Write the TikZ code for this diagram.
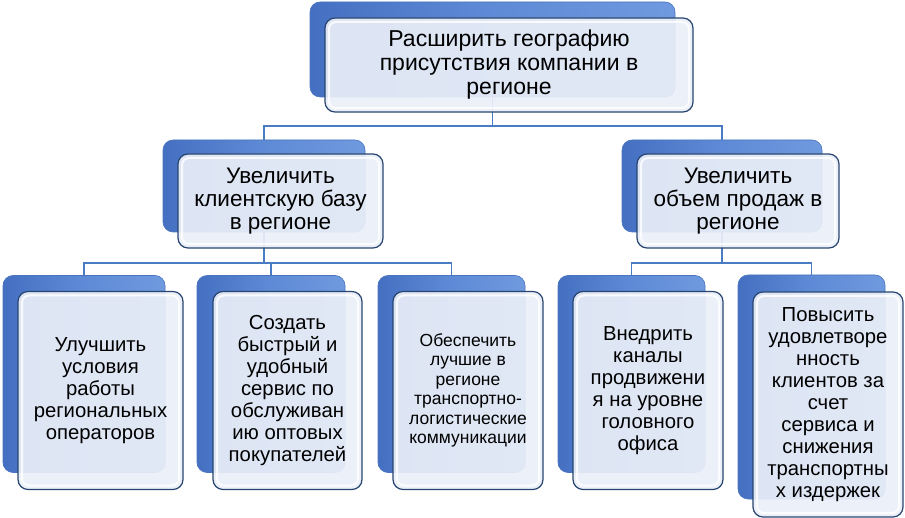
\documentclass[tikz,border=0pt]{standalone}
\usepackage{fontspec}
\setmainfont{Liberation Sans}
\usetikzlibrary{backgrounds}
\definecolor{bluedark}{HTML}{4570C2}
\definecolor{bluemid}{HTML}{5E8AD6}
\definecolor{bluelight}{HTML}{709ADF}
\definecolor{blueedge}{HTML}{4A74BE}
\definecolor{frontfill}{HTML}{EAEFF8}
\definecolor{frontedge}{HTML}{27456F}
\definecolor{linkblue}{HTML}{4A7CC4}
\tikzset{
	backbox/.style={rounded corners=10pt, left color=bluedark, right color=bluelight, middle color=bluemid, draw=blueedge, line width=0.6pt},
	frontbox/.style={rounded corners=10pt, fill=frontfill, fill opacity=0.92, text opacity=1, draw=frontedge, line width=1.2pt, align=center, inner sep=2pt, font=\fontsize{20.3}{22}\selectfont,
		path picture={\draw[white, line width=2pt, opacity=0.8, rounded corners=7pt] ([shift={(4pt,-4pt)}]path picture bounding box.north west) rectangle ([shift={(-4pt,4pt)}]path picture bounding box.south east);}},
	link/.style={draw=linkblue, line width=1.6pt}
}
\begin{document}
\begin{tikzpicture}[x=1pt,y=-1pt]
	\useasboundingbox (0,0) rectangle (905,518);
	\coordinate (railA) at (0,126);
	\coordinate (railB) at (0,263);

	\node[backbox, minimum width=365, minimum height=95] (topB) at (492.5,49.5) {};
	\node[frontbox, minimum width=368, minimum height=94, font=\fontsize{23}{24}\selectfont] (top) at (509,65) {Расширить географию\\присутствия компании в\\регионе};

	\node[backbox, minimum width=202, minimum height=92] (leftB) at (264,186) {};
	\node[frontbox, minimum width=205, minimum height=94, font=\fontsize{22.5}{23}\selectfont] (left) at (280.5,201) {Увеличить\\клиентскую базу\\в регионе};
	\node[backbox, minimum width=200, minimum height=92] (rightB) at (722,186) {};
	\node[frontbox, minimum width=202, minimum height=94, font=\fontsize{22.5}{23}\selectfont] (right) at (738,201) {Увеличить\\объем продаж в\\регионе};

	\node[backbox, minimum width=162, minimum height=197] (b1) at (84,374) {};
	\node[frontbox, minimum width=165, minimum height=198] (f1) at (100.5,390.5) {Улучшить\\условия\\работы\\региональных\\операторов};
	\node[backbox, minimum width=148, minimum height=197] (b2) at (271,374) {};
	\node[frontbox, minimum width=149, minimum height=198] (f2) at (287.5,390.5) {Создать\\быстрый и\\удобный\\сервис по\\обслуживан\\ию оптовых\\покупателей};
	\node[backbox, minimum width=147, minimum height=197] (b3) at (451.5,374) {};
	\node[frontbox, minimum width=150, minimum height=198, font=\fontsize{17.5}{19.5}\selectfont] (f3) at (468,390.5) {Обеспечить\\лучшие в\\регионе\\транспортно-\\логистические\\коммуникации};
	\node[backbox, minimum width=147, minimum height=197] (b4) at (631.5,374) {};
	\node[frontbox, minimum width=150, minimum height=198] (f4) at (648,390.5) {Внедрить\\каналы\\продвижени\\я на уровне\\головного\\офиса};
	\node[backbox, minimum width=147, minimum height=224] (b5) at (811.5,387) {};
	\node[frontbox, minimum width=150, minimum height=225] (f5) at (828,404.5) {Повысить\\удовлетворе\\нность\\клиентов за\\счет\\сервиса и\\снижения\\транспортны\\х издержек};

	\begin{scope}[on background layer]
		\foreach \k in {leftB,rightB} \draw[link] (topB.center) -- (topB.center |- railA) -| (\k.north);
		\foreach \k in {b1,b2,b3} \draw[link] (leftB.center) -- (leftB.center |- railB) -| (\k.north);
		\foreach \k in {b4,b5} \draw[link] (rightB.center) -- (rightB.center |- railB) -| (\k.north);
	\end{scope}
\end{tikzpicture}
\end{document}
